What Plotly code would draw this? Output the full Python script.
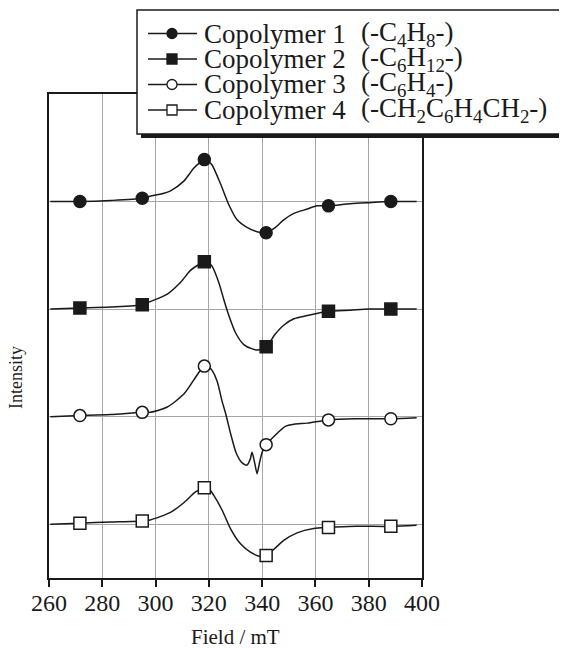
import plotly.graph_objects as go

# ---------------- data ----------------
FIELD_1 = [260.5, 271.6, 283, 295.0, 298, 302, 305.6, 310.6, 314.3, 316.5, 318.3, 320, 321.2, 324.3,
           327.5, 330.6, 334.3, 338.1, 341.5, 345, 348.1, 351.9, 356.9, 360.6, 364.9, 373, 380, 388.3, 398]
INT_1 = [0, 0, 1, 3, 5, 7, 10, 19, 31, 36, 39, 37, 34, 17,
         -3, -17, -24, -28, -29, -24, -17, -11, -7, -4, -4, -2, -1, 0, 0]

FIELD_2 = [260.5, 271.6, 283, 295.0, 298, 304.4, 309.4, 313.1, 316, 318.3, 320, 321.2, 323.7, 325.6,
           327.5, 330, 333.1, 336.3, 338.5, 341.5, 345, 348.1, 351.9, 356.9, 364.9, 373, 380, 388.3, 398]
INT_2 = [0, 1, 2, 4, 7, 14, 25, 36, 41, 44, 43, 40, 25, 9,
         -6, -22, -33, -37, -38, -35, -23, -15, -9, -6, -2, -1, 0, 0, 0]

FIELD_3 = [260.5, 271.6, 283, 295.0, 298, 304.4, 310.6, 314.3, 316.5, 318.3, 320, 321.2, 323.1, 325,
           326.4, 328.4, 330.3, 332.5, 334.3, 335.6, 336.2, 337.2, 338.1, 339, 340, 341.5, 345, 348.7,
           352, 356.9, 364.9, 375, 388.3, 398]
INT_3 = [0, 1, 2, 4, 4, 9, 21, 34, 42, 47, 46, 43, 33, 14,
         2, -18, -34, -43, -45, -39, -33, -43, -53, -43, -33, -26, -17, -9,
         -7, -6, -3, -2, -2, -1]

FIELD_4 = [260.5, 271.6, 283, 295.0, 298, 305.6, 310.6, 315, 318.3, 320, 321.8, 325, 328.1, 331.8,
           335.6, 339.3, 341.5, 345, 348.1, 353.1, 359.3, 364.9, 375, 388.3, 398]
INT_4 = [0, 1, 2, 3, 4, 11, 20, 30, 34, 33, 27, 13, -4, -18,
         -26, -30, -29, -22, -15, -8, -4, -3, -2, -2, -1]

MARKER_FIELDS = [271.6, 295.0, 318.3, 341.5, 364.9, 388.3]
OFFSETS = [300, 200, 100, 0]

NAMES = ["Copolymer 1", "Copolymer 2", "Copolymer 3", "Copolymer 4"]
GROUPS = ["(-C<sub>4</sub>H<sub>8</sub>-)",
          "(-C<sub>6</sub>H<sub>12</sub>-)",
          "(-C<sub>6</sub>H<sub>4</sub>-)",
          "(-CH<sub>2</sub>C<sub>6</sub>H<sub>4</sub>CH<sub>2</sub>-)"]
SYMBOLS = ["circle", "square", "circle-open", "square-open"]
FILLED = [True, True, False, False]

X_TICKS = [260, 280, 300, 320, 340, 360, 380, 400]
Y_GRID = [0, 100, 200, 300, 400]

FIELDS = [FIELD_1, FIELD_2, FIELD_3, FIELD_4]
INTS = [INT_1, INT_2, INT_3, INT_4]

# ---------------- layout geometry (page pixels; page body has an 8px margin) ----------------
PAGE_W, PAGE_H = 567, 648
BODY = 8
W, H = PAGE_W - BODY, PAGE_H - BODY
PLOT_L, PLOT_R, PLOT_T, PLOT_B = 49, 422, 94, 578   # plot frame in page pixels
L = PLOT_L - BODY
T = PLOT_T - BODY
R = PAGE_W - PLOT_R
B = PAGE_H - PLOT_B
PW, PH = PLOT_R - PLOT_L, PLOT_B - PLOT_T
FONT = "Liberation Serif, Times New Roman, serif"
INK = "#1a1a1a"


def px2x(px):
    return (px - PLOT_L) / PW


def py2y(py):
    return (PLOT_B - py) / PH


fig = go.Figure()

for f, v, off, sym, filled in zip(FIELDS, INTS, OFFSETS, SYMBOLS, FILLED):
    y = [val + off for val in v]
    fig.add_trace(go.Scatter(
        x=f, y=y, mode="lines",
        line=dict(color=INK, width=1.5, shape="spline", smoothing=0.7),
        showlegend=False, hoverinfo="skip"))
    mx = [fx for fx in f if fx in MARKER_FIELDS]
    my = [yy for fx, yy in zip(f, y) if fx in MARKER_FIELDS]
    fig.add_trace(go.Scatter(
        x=mx, y=my, mode="markers",
        marker=dict(symbol=sym.replace("-open", ""), size=12,
                    color=INK if filled else "white",
                    line=dict(color=INK, width=1.5)),
        showlegend=False, hoverinfo="skip"))

# ---------------- custom legend box ----------------
shapes = []
annotations = []
box = (137, 10, 563, 134)
sh = 4
shapes.append(dict(type="rect", xref="paper", yref="paper",
                   x0=px2x(box[0] + sh), x1=px2x(box[2] + sh),
                   y0=py2y(box[3] + sh), y1=py2y(box[1] + sh),
                   fillcolor=INK, line=dict(width=0), layer="above"))
shapes.append(dict(type="rect", xref="paper", yref="paper",
                   x0=px2x(box[0]), x1=px2x(box[2]),
                   y0=py2y(box[3]), y1=py2y(box[1]),
                   fillcolor="white", line=dict(color=INK, width=1.5), layer="above"))

rows = [33.5, 59, 84.5, 110]
for ry, name, grp, sym, filled in zip(rows, NAMES, GROUPS, SYMBOLS, FILLED):
    shapes.append(dict(type="line", xref="paper", yref="paper",
                       x0=px2x(148), x1=px2x(197), y0=py2y(ry), y1=py2y(ry),
                       line=dict(color=INK, width=1.5), layer="above"))
    r = 5
    shapes.append(dict(type="circle" if sym.startswith("circle") else "rect",
                       xref="paper", yref="paper",
                       x0=px2x(172 - r), x1=px2x(172 + r),
                       y0=py2y(ry + r), y1=py2y(ry - r),
                       fillcolor=INK if filled else "white",
                       line=dict(color=INK, width=1.3), layer="above"))
    annotations.append(dict(xref="paper", yref="paper", x=px2x(202), y=py2y(ry),
                            xanchor="left", yanchor="middle", showarrow=False,
                            text=name, font=dict(family=FONT, size=27, color=INK)))
    annotations.append(dict(xref="paper", yref="paper", x=px2x(359), y=py2y(ry),
                            xanchor="left", yanchor="middle", showarrow=False,
                            text=grp, font=dict(family=FONT, size=27, color=INK)))

# axis titles
annotations.append(dict(xref="paper", yref="paper", x=0.5, y=py2y(637),
                        xanchor="center", yanchor="middle", showarrow=False,
                        text="Field / mT", font=dict(family=FONT, size=21, color=INK)))
annotations.append(dict(xref="paper", yref="paper", x=px2x(16), y=py2y(378),
                        xanchor="center", yanchor="middle", showarrow=False, textangle=-90,
                        text="Intensity", font=dict(family=FONT, size=18, color=INK)))

fig.update_layout(
    width=W, height=H,
    margin=dict(l=L, r=R, t=T, b=B),
    paper_bgcolor="white", plot_bgcolor="white",
    shapes=shapes, annotations=annotations,
    showlegend=False,
    xaxis=dict(range=[260, 400], tickvals=X_TICKS, ticktext=[str(t) for t in X_TICKS],
               ticks="outside", ticklen=7, tickwidth=1.5, tickcolor=INK,
               ticklabelstandoff=-5,
               showgrid=True, gridcolor="#a6a6a6", gridwidth=1,
               showline=True, linecolor=INK, linewidth=1.5, mirror=True,
               zeroline=False, tickfont=dict(family=FONT, size=24, color=INK)),
    yaxis=dict(range=[-50, 400], tickvals=Y_GRID, showticklabels=False, ticks="",
               showgrid=True, gridcolor="#a6a6a6", gridwidth=1,
               showline=True, linecolor=INK, linewidth=1.5, mirror=True,
               zeroline=False),
)

fig.write_html("out.html")
